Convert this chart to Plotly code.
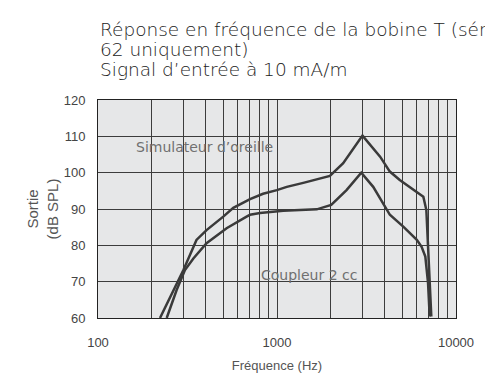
import plotly.graph_objects as go

# Simulateur d'oreille (upper curve)
ear_freq = [222, 263, 300, 355, 404, 501, 570, 707, 836, 998, 1134, 1402, 1975, 2343, 3003, 3767, 4270, 4851, 6040, 6570, 6830, 6980, 7130, 7280]
ear_db = [60, 67.7, 73.2, 81.5, 84.2, 87.9, 90.3, 92.7, 94.2, 95.2, 96.1, 97.2, 99.1, 102.6, 110.2, 104.4, 100.3, 98.0, 94.8, 93.4, 89.7, 78.7, 69.6, 60.4]

# Coupleur 2 cc (lower curve)
cpl_freq = [242, 275, 306, 341, 404, 523, 676, 707, 804, 1084, 1668, 2009, 2446, 2957, 3447, 3767, 4270, 5093, 6040, 6425, 6740, 6980, 7130]
cpl_db = [60, 67.7, 73.2, 76.4, 80.6, 84.7, 87.9, 88.4, 88.9, 89.5, 89.9, 91.1, 95.2, 100.0, 96.1, 92.9, 88.4, 85.1, 81.5, 79.6, 76.9, 69.6, 60.4]

x_ticks = [100, 1000, 10000]
x_tick_labels = ["100", "1000", "10000"]
y_ticks = [60, 70, 80, 90, 100, 110, 120]

title_lines = ["Réponse en fréquence de la bobine T (série", "62 uniquement)", "Signal d’entrée à 10 mA/m"]

TFONT = "DejaVu Sans, sans-serif"
AFONT = "Liberation Sans, Arial, sans-serif"
line_color = "#3a3a3a"
grid_color = "#3c3c3c"

fig = go.Figure()
fig.add_trace(go.Scatter(x=ear_freq, y=ear_db, mode="lines", name="Simulateur d'oreille",
                         line=dict(color=line_color, width=2.5), showlegend=False))
fig.add_trace(go.Scatter(x=cpl_freq, y=cpl_db, mode="lines", name="Coupleur 2 cc",
                         line=dict(color=line_color, width=2.5), showlegend=False))

fig.add_annotation(x=2.594, y=107.1, xref="x", yref="y", text="Simulateur d’oreille",
                   showarrow=False, font=dict(family=TFONT, size=14, color="#707070"))
fig.add_annotation(x=3.179, y=71.8, xref="x", yref="y", text="Coupleur 2 cc",
                   showarrow=False, font=dict(family=TFONT, size=14, color="#707070"))

# Title block: three lines, left-aligned with the plot area
for i, line in enumerate(title_lines):
    ypx = 29.5 + 19.8 * i
    fig.add_annotation(x=0, y=1 + (100 - ypx) / 218, xref="paper", yref="paper",
                       xanchor="left", yanchor="middle", align="left", showarrow=False,
                       text=line, font=dict(family=TFONT, size=18.5, color="#222222", weight=300))

fig.update_layout(
    width=485, height=383,
    margin=dict(l=98, r=29, t=100, b=65, autoexpand=False),
    paper_bgcolor="white",
    plot_bgcolor="#e6e7e8",
    font=dict(family=AFONT, color="#444444"),
    xaxis=dict(
        type="log", range=[2, 4],
        tickvals=x_ticks, ticktext=x_tick_labels,
        showgrid=True, gridcolor=grid_color, gridwidth=1,
        minor=dict(dtick="D1", showgrid=True, gridcolor=grid_color, gridwidth=1, ticks=""),
        showline=True, linecolor="#222222", linewidth=1, mirror=True,
        ticks="", ticklabelstandoff=12,
        tickfont=dict(family=AFONT, size=13, color="#444444"),
        title=dict(text="Fréquence (Hz)", font=dict(family=AFONT, size=13, color="#555555"), standoff=12),
        zeroline=False,
    ),
    yaxis=dict(
        range=[60, 120], tickvals=y_ticks,
        showgrid=True, gridcolor=grid_color, gridwidth=1,
        showline=True, linecolor="#222222", linewidth=1, mirror=True,
        ticks="", ticklabelstandoff=9,
        tickfont=dict(family=AFONT, size=13, color="#444444"),
        title=dict(text="Sortie<br>(dB SPL)", font=dict(family=AFONT, size=15, color="#555555"), standoff=1),
        zeroline=False,
    ),
)

fig.write_html("out.html", config={"displayModeBar": False},
               post_script="document.body.style.margin='0';document.body.style.overflow='hidden';")
